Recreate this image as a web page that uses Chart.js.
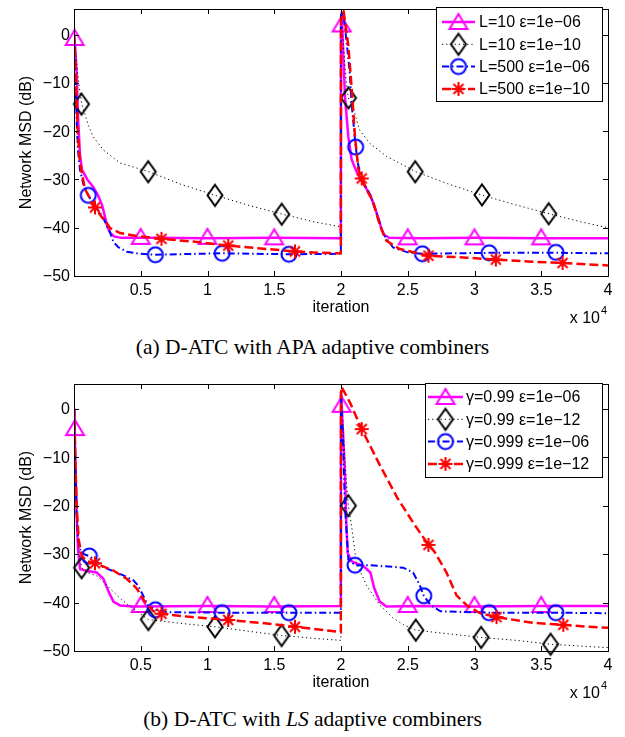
<!DOCTYPE html>
<html>
<head>
<meta charset="utf-8">
<script src="https://cdn.jsdelivr.net/npm/chart.js@4.4.0/dist/chart.umd.min.js"></script>
<style>
  html, body { margin: 0; padding: 0; background: #fff; }
  #page { position: relative; width: 625px; height: 737px; overflow: hidden; }
  .plot { position: absolute; left: 0; width: 625px; height: 330px; }
  .caption { position: absolute; left: 0; width: 625px; text-align: center;
             font-family: "Liberation Serif", "DejaVu Serif", serif; font-size: 21.5px;
             line-height: 24px; color: #000; }
</style>
</head>
<body>
<div id="page">
  <div class="plot" style="top:0"><canvas id="apaChart" width="625" height="330"></canvas></div>
  <div class="caption" style="top:335px">(a) D-ATC with APA adaptive combiners</div>
  <div class="plot" style="top:375px"><canvas id="lsChart" width="625" height="330"></canvas></div>
  <div class="caption" style="top:707px">(b) D-ATC with <i>LS</i> adaptive combiners</div>
</div>
<script>
// 軸の目盛り (x は 10^4 単位)
const xTickVals = [0.5, 1, 1.5, 2, 2.5, 3, 3.5, 4];
const yTickVals = [-50, -40, -30, -20, -10, 0];

// (a) APA: L=10 ε=1e-06
const apaL10e6X = [0, 0.01, 0.02, 0.03, 0.045, 0.06, 0.1, 0.145, 0.18, 0.21, 0.23, 0.25, 0.27, 0.3, 0.35, 0.6, 1.0, 1.5, 1.999,
  2.0, 2.005, 2.03, 2.055, 2.08, 2.12, 2.17, 2.22, 2.25, 2.28, 2.3, 2.32, 2.36, 2.6, 3.0, 3.5, 4.0];
const apaL10e6Y = [0, -3, -8, -17, -25, -28, -30, -31.6, -33.3, -35.3, -37.5, -39.8, -41, -41.8, -42.1, -42.1, -42.2, -42.1, -42.2,
  2, 4.7, -13, -21.2, -25.9, -28.6, -31, -33.3, -35.5, -38, -40, -41.4, -42.1, -42.2, -42.1, -42.2, -42.2];
const apaL10e6MarkX = [0.005, 0.5, 1.0, 1.5, 2.005, 2.5, 3.0, 3.5];
const apaL10e6MarkY = [-0.7, -41.9, -41.9, -42, 2.1, -42, -42, -42];

// (a) APA: L=10 ε=1e-10
const apaL10e10X = [0, 0.02, 0.04, 0.058, 0.082, 0.11, 0.145, 0.22, 0.345, 0.56, 0.8, 1.06, 1.3, 1.56, 1.8, 1.999,
  2.0, 2.02, 2.04, 2.055, 2.09, 2.14, 2.215, 2.34, 2.56, 2.8, 3.05, 3.3, 3.57, 3.8, 4.0];
const apaL10e10Y = [0, -6, -11, -14.4, -16.5, -19, -21.2, -23.9, -26.6, -28.4, -31, -33.3, -35.3, -37.2, -38.8, -39.8,
  4.5, -3, -10, -13.1, -15.1, -19.8, -22.5, -25.2, -28.4, -30.9, -33.2, -35.2, -37.2, -38.8, -40.0];
const apaL10e10MarkX = [0.056, 0.556, 1.056, 1.556, 2.056, 2.556, 3.056, 3.556];
const apaL10e10MarkY = [-14.4, -28.4, -33.3, -37.2, -13.1, -28.4, -33.2, -37.1];

// (a) APA: L=500 ε=1e-06
const apaL500e6X = [0, 0.01, 0.02, 0.03, 0.045, 0.07, 0.107, 0.15, 0.21, 0.245, 0.27, 0.295, 0.33, 0.395, 0.5, 0.61, 1.1, 1.61, 1.999,
  2.0, 2.015, 2.04, 2.065, 2.08, 2.11, 2.13, 2.17, 2.22, 2.27, 2.32, 2.39, 2.5, 2.605, 3.11, 3.61, 4.0];
const apaL500e6Y = [0, -8, -18, -24, -28, -31, -33.3, -35.2, -37.5, -39.5, -41, -42.9, -44, -45, -45.4, -45.6, -45.3, -45.5, -45.4,
  4, 4.7, -1, -7.7, -14.4, -23.3, -27.2, -30.6, -33.3, -37.3, -41.4, -44.1, -45.1, -45.4, -45.2, -45.2, -45.3];
const apaL500e6MarkX = [0.107, 0.61, 1.11, 1.61, 2.11, 2.61, 3.11, 3.61];
const apaL500e6MarkY = [-33.3, -45.6, -45.3, -45.5, -23.3, -45.4, -45.2, -45.1];

// (a) APA: L=500 ε=1e-10
const apaL500e10X = [0, 0.01, 0.02, 0.03, 0.045, 0.082, 0.157, 0.2, 0.245, 0.27, 0.345, 0.49, 0.655, 0.94, 1.155, 1.4, 1.655, 1.85, 1.999,
  2.0, 2.02, 2.055, 2.08, 2.105, 2.13, 2.155, 2.19, 2.24, 2.29, 2.34, 2.44, 2.655, 2.94, 3.16, 3.4, 3.66, 3.85, 4.0];
const apaL500e10Y = [0, -6, -14, -21, -26.6, -32, -35.8, -37.5, -39, -40.1, -41.1, -41.8, -42.3, -43, -43.7, -44.3, -44.9, -45.2, -45.3,
  3, 4.7, -2.3, -11.1, -21.2, -27.9, -29.8, -32, -34.6, -39.4, -42.7, -44.4, -45.8, -46.2, -46.6, -47, -47.3, -47.6, -47.8];
const apaL500e10MarkX = [0.157, 0.655, 1.155, 1.655, 2.155, 2.655, 3.16, 3.66];
const apaL500e10MarkY = [-35.8, -42.3, -43.7, -44.9, -29.8, -45.8, -46.6, -47.3];

// (b) LS: γ=0.99 ε=1e-06
const lsG99e6X = [0, 0.005, 0.01, 0.02, 0.03, 0.045, 0.1, 0.17, 0.22, 0.26, 0.295, 0.345, 0.45, 1.0, 1.5, 1.999,
  2.0, 2.01, 2.03, 2.04, 2.05, 2.075, 2.12, 2.165, 2.22, 2.25, 2.29, 2.34, 2.6, 3.0, 3.5, 4.0];
const lsG99e6Y = [0, -4, -10, -22, -29, -33.1, -33.5, -33.8, -35.1, -37.8, -39.8, -40.6, -40.8, -40.7, -40.8, -40.7,
  3.5, -2, -13.6, -23.7, -29.7, -31.4, -32, -32.4, -33.8, -37.1, -39.8, -40.8, -40.7, -40.8, -40.7, -40.7];
const lsG99e6MarkX = [0.0075, 0.5, 1.0, 1.5, 2.005, 2.5, 3.0, 3.5];
const lsG99e6MarkY = [-4, -40.5, -40.5, -40.5, 0.8, -40.5, -40.5, -40.5];

// (b) LS: γ=0.99 ε=1e-12
const lsG99e12X = [0, 0.01, 0.02, 0.04, 0.057, 0.1, 0.17, 0.23, 0.295, 0.36, 0.42, 0.557, 0.8, 1.056, 1.3, 1.555, 1.8, 1.999,
  2.0, 2.02, 2.04, 2.055, 2.08, 2.115, 2.19, 2.29, 2.39, 2.47, 2.56, 2.82, 3.05, 3.31, 3.57, 3.8, 4.0];
const lsG99e12Y = [0, -10, -22, -30, -32.8, -33.8, -34.5, -36, -37.8, -39.5, -40.8, -43.5, -44.3, -45.0, -45.9, -46.8, -47.4, -47.8,
  3, -6, -15, -20, -24.4, -31.8, -36.4, -40.5, -43.2, -44.6, -45.7, -46.5, -47.2, -47.8, -48.6, -49.0, -49.3];
const lsG99e12MarkX = [0.057, 0.557, 1.056, 1.555, 2.055, 2.56, 3.05, 3.57];
const lsG99e12MarkY = [-32.8, -43.5, -45.0, -46.8, -20.0, -45.7, -47.2, -48.6];

// (b) LS: γ=0.999 ε=1e-06
const lsG999e6X = [0, 0.005, 0.01, 0.02, 0.03, 0.05, 0.08, 0.115, 0.22, 0.37, 0.445, 0.48, 0.51, 0.555, 0.61, 0.7, 1.11, 1.61, 1.999,
  2.0, 2.015, 2.03, 2.055, 2.105, 2.215, 2.465, 2.54, 2.59, 2.62, 2.67, 2.745, 3.11, 3.61, 4.0];
const lsG999e6Y = [0, -5, -12, -22, -27, -29.5, -30.1, -30.4, -32.7, -34.4, -35.4, -36.5, -38.1, -40.7, -41.5, -42, -42.1, -42.1, -42.1,
  3.5, -6.9, -20.3, -31.1, -32.3, -32.3, -32.8, -33.8, -36.4, -38.6, -40.5, -41.8, -42.1, -42.1, -42.2];
const lsG999e6MarkX = [0.115, 0.61, 1.11, 1.61, 2.105, 2.62, 3.11, 3.61];
const lsG999e6MarkY = [-30.4, -41.5, -42.1, -42.1, -32.3, -38.6, -42.1, -42.1];

// (b) LS: γ=0.999 ε=1e-12
const lsG999e12X = [0, 0.005, 0.01, 0.02, 0.035, 0.058, 0.1, 0.157, 0.295, 0.395, 0.47, 0.53, 0.595, 0.655, 0.845, 1.155, 1.4, 1.655, 1.85, 1.999,
  2.0, 2.005, 2.07, 2.155, 2.29, 2.42, 2.545, 2.655, 2.7, 2.79, 2.865, 2.94, 3.04, 3.165, 3.44, 3.665, 3.85, 4.0];
const lsG999e12Y = [0, -5, -11, -20, -27, -30.4, -31.5, -31.9, -33.4, -35.1, -37.1, -39.8, -41.8, -42.3, -42.9, -43.6, -44.2, -45.0, -45.6, -46.1,
  3, 4.5, 1.1, -4.2, -11.6, -18.3, -23.7, -28.1, -29.5, -33.8, -38.5, -40.5, -42.2, -43.0, -44.2, -44.6, -45.0, -45.2];
const lsG999e12MarkX = [0.157, 0.655, 1.155, 1.655, 2.155, 2.655, 3.165, 3.665];
const lsG999e12MarkY = [-31.9, -42.3, -43.6, -45.0, -4.2, -28.1, -43.0, -44.6];

// 凡例ラベル
const apaLabels = ['L=10 ε=1e\u221206', 'L=10 ε=1e\u221210', 'L=500 ε=1e\u221206', 'L=500 ε=1e\u221210'];
const lsLabels = ['γ=0.99 ε=1e\u221206', 'γ=0.99 ε=1e\u221212', 'γ=0.999 ε=1e\u221206', 'γ=0.999 ε=1e\u221212'];

const FONT = '"Liberation Sans", Arial, sans-serif';

// マーカー画像を作る
function makeMarker(kind, color) {
    const c = document.createElement('canvas');
    c.width = 26; c.height = 26;
    const g = c.getContext('2d');
    const m = 13;
    g.strokeStyle = color;
    g.lineWidth = 2;
    g.beginPath();
    if (kind === 'triangle') {
        g.moveTo(m, m - 8); g.lineTo(m + 9, m + 7); g.lineTo(m - 9, m + 7); g.closePath();
    } else if (kind === 'diamond') {
        g.moveTo(m, m - 10.5); g.lineTo(m + 7.5, m); g.lineTo(m, m + 10.5); g.lineTo(m - 7.5, m); g.closePath();
    } else if (kind === 'circle') {
        g.arc(m, m, 7.5, 0, Math.PI * 2);
    } else {
        const r = 7, d = 5;
        g.moveTo(m - r, m); g.lineTo(m + r, m);
        g.moveTo(m, m - r); g.lineTo(m, m + r);
        g.moveTo(m - d, m - d); g.lineTo(m + d, m + d);
        g.moveTo(m - d, m + d); g.lineTo(m + d, m - d);
    }
    g.stroke();
    return c;
}

const styles = [
    { color: '#ff00ff', width: 2.5, dash: [], marker: makeMarker('triangle', '#ff00ff'), order: 8 },
    { color: '#000000', width: 1, dash: [1.2, 3], marker: makeMarker('diamond', '#000000'), order: 6 },
    { color: '#0000ff', width: 2, dash: [7, 3, 1.5, 3], marker: makeMarker('circle', '#0000ff'), order: 4 },
    { color: '#ff0000', width: 2.5, dash: [9, 4], marker: makeMarker('star', '#ff0000'), order: 2 }
];

function toPoints(xs, ys) {
    return xs.map((x, i) => ({ x: x, y: ys[i] }));
}

function buildDatasets(series) {
    const sets = [];
    series.forEach((s, i) => {
        const st = styles[i];
        sets.push({
            data: toPoints(s[0], s[1]), borderColor: st.color, borderWidth: st.width,
            borderDash: st.dash, pointRadius: 0, fill: false, tension: 0, order: st.order
        });
        sets.push({
            data: toPoints(s[2], s[3]), showLine: false, pointStyle: st.marker,
            pointRadius: 8, clip: false, order: st.order - 1
        });
    });
    return sets;
}

// 枠・内向き目盛り・目盛りラベル・軸タイトル・凡例
function decorPlugin(legendBox, labels) {
    return {
        id: 'decor',
        afterDraw(chart) {
            const ctx = chart.ctx;
            const a = chart.chartArea;
            const xs = chart.scales.x, ys = chart.scales.y;
            ctx.save();
            ctx.strokeStyle = '#000';
            ctx.lineWidth = 1;
            ctx.setLineDash([]);
            ctx.beginPath();
            xTickVals.forEach(v => {
                const px = Math.round(xs.getPixelForValue(v)) + 0.5;
                ctx.moveTo(px, a.bottom); ctx.lineTo(px, a.bottom - 5);
                ctx.moveTo(px, a.top); ctx.lineTo(px, a.top + 5);
            });
            yTickVals.forEach(v => {
                const py = Math.round(ys.getPixelForValue(v)) + 0.5;
                ctx.moveTo(a.left, py); ctx.lineTo(a.left + 5, py);
                ctx.moveTo(a.right, py); ctx.lineTo(a.right - 5, py);
            });
            ctx.stroke();
            ctx.strokeRect(Math.round(a.left) + 0.5, Math.round(a.top) + 0.5,
                Math.round(a.right - a.left), Math.round(a.bottom - a.top));

            // 目盛りラベル
            ctx.fillStyle = '#000';
            ctx.font = '16px ' + FONT;
            ctx.textAlign = 'center';
            ctx.textBaseline = 'middle';
            xTickVals.forEach(v => {
                ctx.fillText(String(v), xs.getPixelForValue(v), a.bottom + 15);
            });
            ctx.textAlign = 'right';
            yTickVals.forEach(v => {
                ctx.fillText(String(v).replace('-', '\u2212'), a.left - 4, ys.getPixelForValue(v) + 1);
            });

            // 軸タイトル
            ctx.textAlign = 'center';
            ctx.fillText('iteration', (a.left + a.right) / 2, a.bottom + 32);
            ctx.save();
            ctx.translate(27, (a.top + a.bottom) / 2);
            ctx.rotate(-Math.PI / 2);
            ctx.fillText('Network MSD (dB)', 0, 0);
            ctx.restore();
            ctx.textAlign = 'right';
            ctx.textBaseline = 'alphabetic';
            ctx.fillText('x 10', a.right - 8, a.bottom + 47);
            ctx.textAlign = 'left';
            ctx.font = '11px ' + FONT;
            ctx.fillText('4', a.right - 7, a.bottom + 38);

            // 凡例
            const b = legendBox;
            ctx.fillStyle = '#fff';
            ctx.fillRect(b.left, b.top, b.width, b.height);
            ctx.strokeRect(b.left + 0.5, b.top + 0.5, b.width, b.height);
            ctx.font = '16px ' + FONT;
            ctx.textBaseline = 'middle';
            labels.forEach((text, i) => {
                const st = styles[i];
                const y = b.top + b.firstRow + i * b.rowH;
                ctx.strokeStyle = st.color;
                ctx.lineWidth = st.width;
                ctx.setLineDash(st.dash);
                ctx.beginPath();
                ctx.moveTo(b.left + b.lineFrom, y);
                ctx.lineTo(b.left + b.lineFrom + b.lineLen, y);
                ctx.stroke();
                ctx.setLineDash([]);
                const mk = st.marker;
                ctx.drawImage(mk, b.left + b.lineFrom + b.lineLen / 2 - mk.width / 2, y - mk.height / 2);
                ctx.fillStyle = '#000';
                ctx.fillText(text, b.left + b.textX, y + 1);
            });
            ctx.restore();
        }
    };
}

function makeChart(id, series, yMax, legendBox, labels) {
    return new Chart(document.getElementById(id), {
        type: 'line',
        data: { datasets: buildDatasets(series) },
        options: {
            responsive: false,
            animation: false,
            events: [],
            devicePixelRatio: 1,
            // 描画領域: left 74, right 608, top 2, bottom 276
            layout: { padding: { left: 74, right: 17, top: 2, bottom: 54 } },
            plugins: { legend: { display: false }, tooltip: { enabled: false } },
            scales: {
                x: { type: 'linear', min: 0, max: 4, display: false },
                y: { type: 'linear', min: -50, max: yMax, display: false }
            }
        },
        plugins: [decorPlugin(legendBox, labels)]
    });
}

makeChart('apaChart', [
    [apaL10e6X, apaL10e6Y, apaL10e6MarkX, apaL10e6MarkY],
    [apaL10e10X, apaL10e10Y, apaL10e10MarkX, apaL10e10MarkY],
    [apaL500e6X, apaL500e6Y, apaL500e6MarkX, apaL500e6MarkY],
    [apaL500e10X, apaL500e10Y, apaL500e10MarkX, apaL500e10MarkY]
], 5.3, { left: 436, top: 7, width: 166, height: 94, firstRow: 15, rowH: 22.3, lineFrom: 6, lineLen: 33, textX: 43 }, apaLabels);

makeChart('lsChart', [
    [lsG99e6X, lsG99e6Y, lsG99e6MarkX, lsG99e6MarkY],
    [lsG99e12X, lsG99e12Y, lsG99e12MarkX, lsG99e12MarkY],
    [lsG999e6X, lsG999e6Y, lsG999e6MarkX, lsG999e6MarkY],
    [lsG999e12X, lsG999e12Y, lsG999e12MarkX, lsG999e12MarkY]
], 5.1, { left: 425, top: 8, width: 177, height: 94, firstRow: 14, rowH: 22.3, lineFrom: 3, lineLen: 35, textX: 41 }, lsLabels);
</script>
</body>
</html>
